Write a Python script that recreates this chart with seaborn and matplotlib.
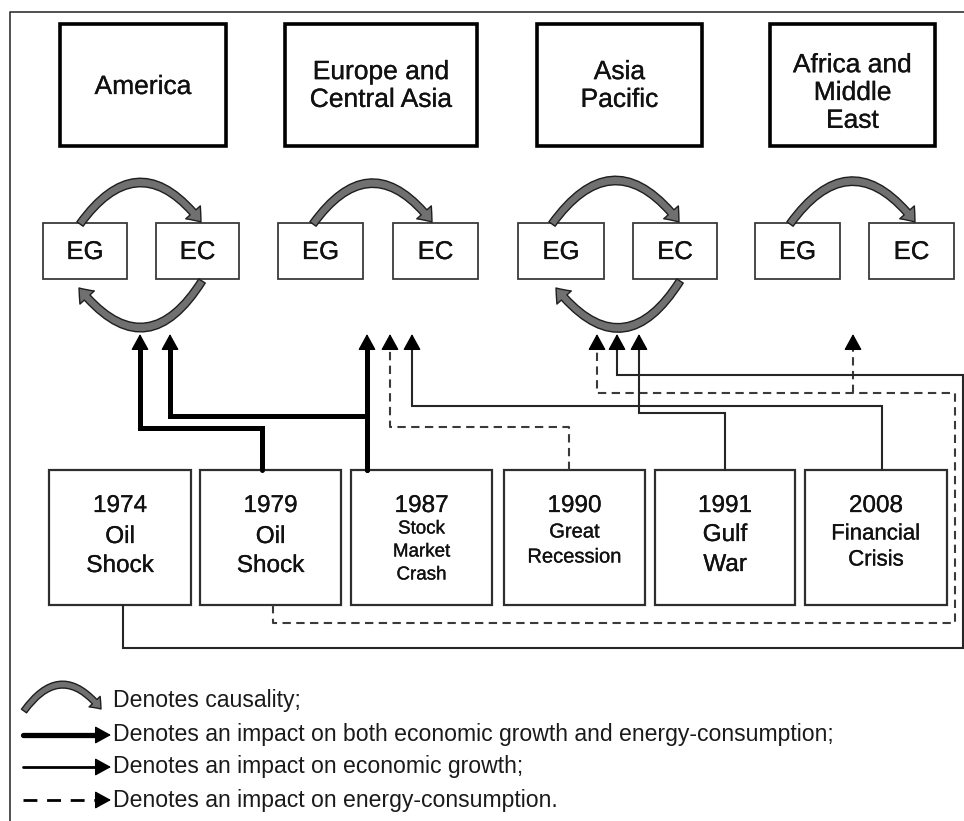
import matplotlib
matplotlib.use("Agg")
import matplotlib.pyplot as plt
import matplotlib.patheffects as pe
from matplotlib.patches import Rectangle, FancyArrowPatch
import pandas as pd
import seaborn as sns

# ---- content ----
regions = ["America", "Europe and\nCentral Asia", "Asia\nPacific", "Africa and\nMiddle\nEast"]
two_way = [True, False, True, False]          # EG <-> EC causality in both directions
events = ["1974", "1979", "1987", "1990", "1991", "2008"]
event_sub = [["Oil", "Shock"], ["Oil", "Shock"], ["Stock", "Market", "Crash"],
             ["Great", "Recession"], ["Gulf", "War"], ["Financial", "Crisis"]]
# (event, region, kind)  kind: both / eg / ec
links = [("1979", "America", "both"), ("1987", "America", "both"),
         ("1987", "Europe", "both"), ("1990", "Europe", "ec"),
         ("2008", "Europe", "eg"), ("1979", "Asia", "ec"),
         ("1979", "Africa", "ec"), ("1974", "Asia", "eg"),
         ("1991", "Asia", "eg")]
legend_texts = ["Denotes causality;",
                "Denotes an impact on both economic growth and energy-consumption;",
                "Denotes an impact on economic growth;",
                "Denotes an impact on energy-consumption."]

# ---- layout (pixel space) ----
W, H = 964, 821
region_x = [(60, 226), (285, 477), (537, 702), (770, 935)]
region_y = (24, 146)
region_dy = [2, 1, 1, 8]
eg_x = [(43, 127), (278, 363), (518, 604), (755, 840)]
ec_x = [(156, 239), (393, 478), (633, 717), (869, 954)]
small_y = (223, 279)
top_arc = [((80, 224), (201, 222)), ((313, 224), (432, 222)),
           ((552, 224), (679, 222)), ((790, 224), (915, 222))]
bottom_arc = {0: ((202, 281), (79, 288)), 2: ((680, 281), (556, 288))}
event_x = [(49, 191), (200, 341), (351, 492), (504, 645), (655, 795), (805, 947)]
event_y = (470, 605)
sub_layout = [(537, 29, 17.5), (537, 29, 17.5), (529, 23, 13.5),
              (532, 25, 14.5), (535, 30, 17.5), (534, 26, 16)]
TIP = 334
routes = [
    [(262, 470), (262, 428), (140, 428), (140, TIP)],
    [(367, 470), (367, 416), (170, 416), (170, TIP)],
    [(367, 470), (367, TIP)],
    [(569, 470), (569, 427), (390, 427), (390, TIP)],
    [(882, 470), (882, 406), (412, 406), (412, TIP)],
    [(273, 605), (273, 623), (955, 623), (955, 393), (597, 393), (597, TIP)],
    [(853, 393), (853, TIP)],
    [(123, 605), (123, 648), (963, 648), (963, 375), (617, 375), (617, TIP)],
    [(725, 470), (725, 413), (639, 413), (639, TIP)],
]
styles = {"both": dict(lw=3.6, color="black", dashed=False),
          "eg": dict(lw=1.5, color="#262626", dashed=False),
          "ec": dict(lw=1.5, color="#3a3a3a", dashed=True)}
HEAD = 13

sns.set_style("white")
plt.rcParams["font.family"] = ["Liberation Sans", "DejaVu Sans"]
heavy = [pe.withStroke(linewidth=0.2, foreground="#111111")]

fig = plt.figure(figsize=(W / 100, H / 100), dpi=100)
ax = fig.add_axes([0, 0, 1, 1])
ax.set_xlim(0, W)
ax.set_ylim(H, 0)
ax.axis("off")

# outer frame
sns.lineplot(x=[10, 10, W], y=[H, 12, 12], sort=False, estimator=None,
             color="#333333", linewidth=1.2, ax=ax)

arc_kw = dict(arrowstyle="simple,head_length=9,head_width=14,tail_width=5.5",
              mutation_scale=1, fc="#707070", ec="#1e1e1e", lw=1.0,
              shrinkA=0, shrinkB=0, zorder=3)

for i, name in enumerate(regions):
    x0, x1 = region_x[i]
    ax.add_patch(Rectangle((x0, region_y[0]), x1 - x0, region_y[1] - region_y[0],
                           fill=False, ec="black", lw=2.6))
    ax.text((x0 + x1) / 2, (region_y[0] + region_y[1]) / 2 + region_dy[i], name,
            ha="center", va="center", fontsize=19, linespacing=1.2,
            color="#111111", path_effects=heavy)
    for (bx0, bx1), lab in ((eg_x[i], "EG"), (ec_x[i], "EC")):
        ax.add_patch(Rectangle((bx0, small_y[0]), bx1 - bx0, small_y[1] - small_y[0],
                               fc="white", ec="#3a3a3a", lw=1.3))
        ax.text((bx0 + bx1) / 2, (small_y[0] + small_y[1]) / 2 + 1, lab, ha="center",
                va="center", fontsize=18.5, color="#111111", path_effects=heavy)
    a, b = top_arc[i]
    ax.add_patch(FancyArrowPatch(a, b, connectionstyle="arc3,rad=-0.67", **arc_kw))
    if two_way[i]:
        a, b = bottom_arc[i]
        ax.add_patch(FancyArrowPatch(a, b, connectionstyle="arc3,rad=-0.7", **arc_kw))

for i, yr in enumerate(events):
    x0, x1 = event_x[i]
    ax.add_patch(Rectangle((x0, event_y[0]), x1 - x0, event_y[1] - event_y[0],
                           fc="white", ec="#2e2e2e", lw=1.6, zorder=2))
    cx = (x0 + x1) / 2
    ax.text(cx, 506, yr, ha="center", va="center", fontsize=17.5, zorder=4,
            color="#111111", path_effects=heavy)
    y0, step, fs = sub_layout[i]
    for k, line in enumerate(event_sub[i]):
        ax.text(cx, y0 + k * step, line, ha="center", va="center", fontsize=fs,
                zorder=4, color="#111111", path_effects=heavy)


def draw_link(pts, kind, ax):
    st = styles[kind]
    xs = [p[0] for p in pts]
    ys = [p[1] for p in pts]
    ys[-1] = ys[-1] + HEAD
    sns.lineplot(x=xs, y=ys, sort=False, estimator=None, color=st["color"],
                 linewidth=st["lw"], ax=ax)
    line = ax.lines[-1]
    line.set_solid_joinstyle("miter")
    if st["dashed"]:
        line.set_dashes((4, 2.6))
    ax.add_patch(FancyArrowPatch((xs[-1], ys[-1] + 1), pts[-1],
                                 arrowstyle="-|>,head_length=10,head_width=5.5",
                                 mutation_scale=1, color="black", lw=1,
                                 shrinkA=0, shrinkB=0, zorder=5))


for (ev, reg, kind), pts in zip(links, routes):
    draw_link(pts, kind, ax)

# legend
ax.add_patch(FancyArrowPatch((24, 711), (101, 709), connectionstyle="arc3,rad=-0.66",
                             arrowstyle="simple,head_length=7,head_width=11,tail_width=4.5",
                             mutation_scale=1, fc="#707070", ec="#1e1e1e", lw=1.0,
                             shrinkA=0, shrinkB=0))
leg_y = [700, 735, 767, 800]
leg_lw = [3.8, 2.0, 2.0]
for k, kind in enumerate(["both", "eg", "ec"]):
    y = leg_y[k + 1]
    st = styles[kind]
    sns.lineplot(x=[23, 100], y=[y, y], sort=False, estimator=None, color="black",
                 linewidth=leg_lw[k], ax=ax)
    if st["dashed"]:
        ax.lines[-1].set_dashes((5, 3.5))
    ax.add_patch(FancyArrowPatch((99, y), (111, y), arrowstyle="-|>,head_length=10,head_width=5.5",
                                 mutation_scale=1, color="black", lw=1, shrinkA=0, shrinkB=0))
for k, t in enumerate(legend_texts):
    ax.text(113, leg_y[k], t, ha="left", va="center", fontsize=16.6, color="#1a1a1a")

fig.savefig("out.png", dpi=100)
